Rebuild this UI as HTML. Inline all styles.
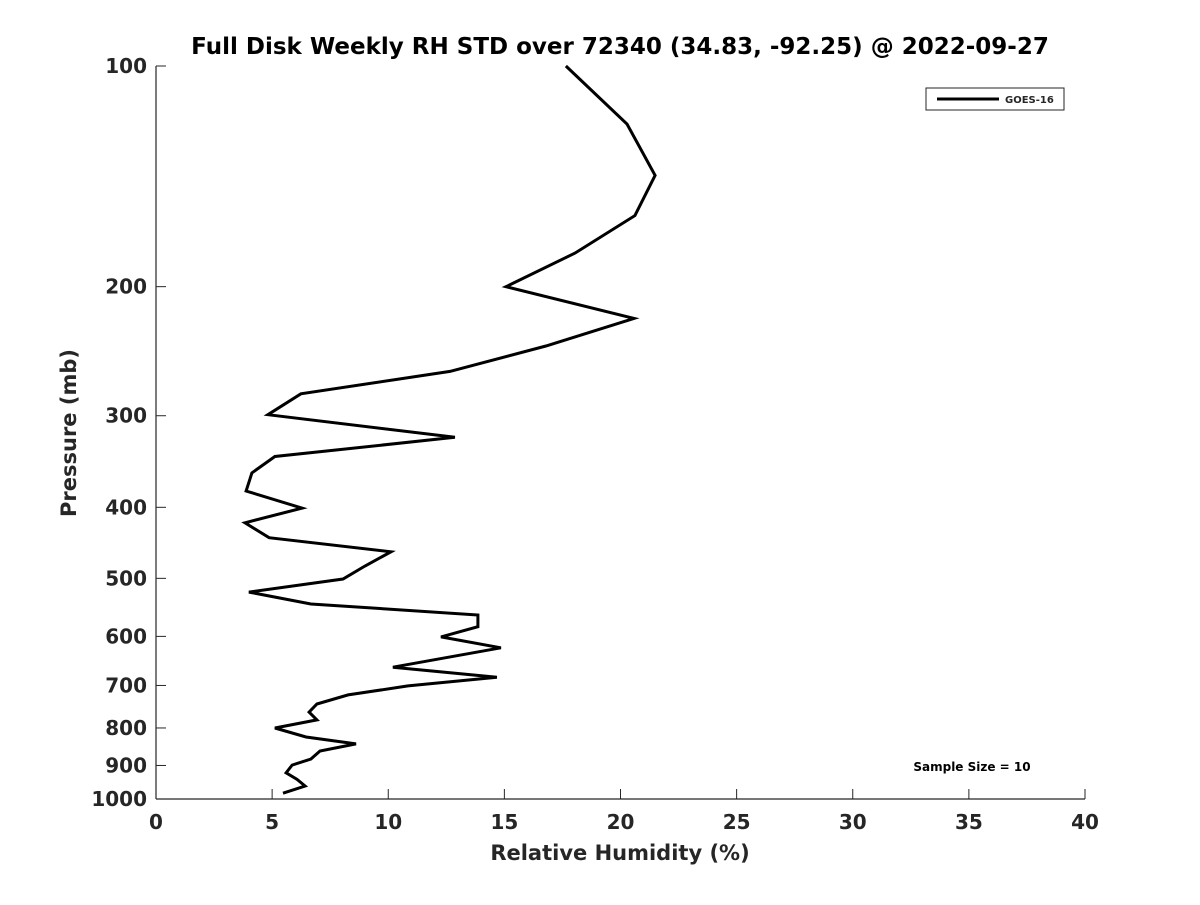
<!DOCTYPE html>
<html><head><meta charset="utf-8"><style>
body{margin:0;background:#fff;}
svg text{font-family:"DejaVu Sans","Liberation Sans",sans-serif;font-weight:bold;fill:#262626;}
</style></head><body>
<svg id="chart" width="1200" height="900">
<rect width="1200" height="900" fill="#fff"/>
<text x="620" y="54" font-size="23" text-anchor="middle" fill="#000" style="fill:#000">Full Disk Weekly RH STD over 72340 (34.83, -92.25) @ 2022-09-27</text>
<g id="axes"></g>
<g id="series"></g>
<text x="620" y="860" font-size="21" text-anchor="middle">Relative Humidity (%)</text>
<text transform="translate(76,433) rotate(-90)" font-size="21" text-anchor="middle">Pressure (mb)</text>
<g>
<rect x="926" y="88" width="138" height="22" fill="#fff" stroke="#262626" stroke-width="1"/>
<line x1="937" y1="99" x2="999" y2="99" stroke="#000" stroke-width="3"/>
<text x="1005" y="103" font-size="10">GOES-16</text>
</g>
<text x="972" y="771" font-size="12" text-anchor="middle" fill="#000" style="fill:#000">Sample Size = 10</text>
</svg>
<script>
const xTicks=[0,5,10,15,20,25,30,35,40];
const yTicks=[100,200,300,400,500,600,700,800,900,1000];
const pressure=[100,120,141,160,180,200,221,241,261,280,299,321,341,359,380,401,420,440,460,481,501,522,542,561,582,601,622,661,682,701,721,742,761,780,800,823,841,860,882,899,921,940,960,982];
const rhStd=[17.65,20.28,21.49,20.62,18.04,15.07,20.58,16.79,12.66,6.24,4.82,12.87,5.12,4.13,3.88,6.29,3.83,4.87,10.12,9.0,8.05,4.0,6.67,13.86,13.86,12.27,14.85,10.2,14.68,10.85,8.27,6.93,6.59,6.93,5.12,6.46,8.61,7.06,6.67,5.86,5.6,6.07,6.42,5.47];
const NS='http://www.w3.org/2000/svg';
const X0=156,X1=1085,Y0=66,Y1=799;
const xs=v=>X0+(v-0)/(40-0)*(X1-X0);
const ys=p=>Y0+(Math.log10(p)-2)*(Y1-Y0);
const axes=document.getElementById('axes');
function mk(tag,attrs,parent){const e=document.createElementNS(NS,tag);for(const k in attrs)e.setAttribute(k,attrs[k]);parent.appendChild(e);return e;}
let ax=mk('line',{x1:X0,y1:Y1,x2:X1,y2:Y1,stroke:'#262626','stroke-width':1.2},axes);


let ay=mk('line',{x1:X0,y1:Y0,x2:X0,y2:Y1,stroke:'#262626','stroke-width':1.2},axes);


xTicks.forEach(v=>{const x=xs(v);
 mk('line',{x1:x,y1:Y1,x2:x,y2:Y1-10,stroke:'#262626','stroke-width':1},axes);
 const t=mk('text',{x:x,y:Y1+30,'font-size':20,'text-anchor':'middle'},axes);t.textContent=v;
 
 });
yTicks.forEach(p=>{const y=ys(p);
 mk('line',{x1:X0,y1:y,x2:X0+10,y2:y,stroke:'#262626','stroke-width':1},axes);
 const t=mk('text',{x:X0-9,y:y+7,'font-size':20,'text-anchor':'end'},axes);t.textContent=p;
 
 });
const pts=pressure.map((p,i)=>xs(rhStd[i]).toFixed(1)+','+ys(p).toFixed(1)).join(' ');
const line=mk('polyline',{points:pts,fill:'none',stroke:'#000','stroke-width':3,'stroke-linejoin':'miter'},document.getElementById('series'));


</script>
</body></html>
